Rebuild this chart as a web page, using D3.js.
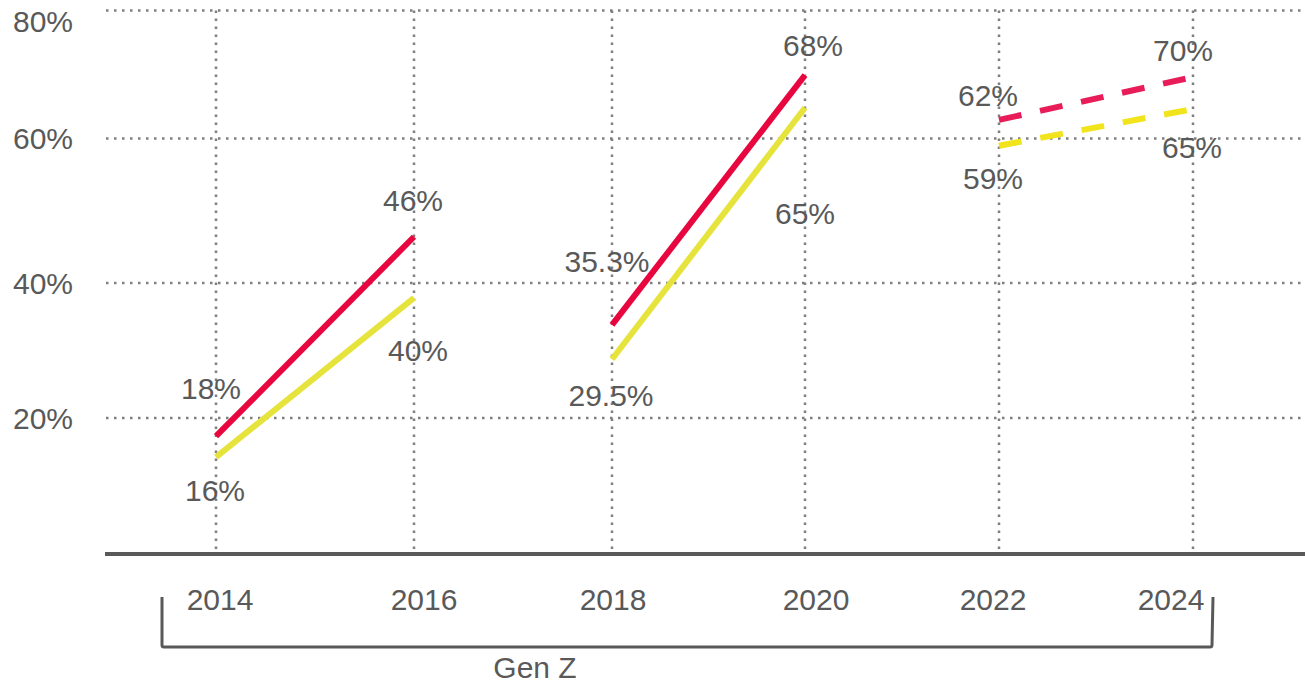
<!DOCTYPE html>
<html>
<head>
<meta charset="utf-8">
<script src="https://cdn.jsdelivr.net/npm/d3@7"></script>
<style>
  body { margin: 0; background: #fff; }
  svg { display: block; }
  text { font-family: "Liberation Sans", Arial, sans-serif; fill: #595959; }
</style>
</head>
<body>
<svg id="chart" width="1305" height="686"></svg>
<script>
// values as drawn in the picture (the printed labels are kept as text)
var years = [2014, 2016, 2018, 2020, 2022, 2024];
var redValues = [17.3, 46.4, 33.8, 69.9, 62.9, 69.6];
var yellowValues = [14.2, 37.8, 28.7, 64.8, 59.0, 64.6];
var redLabels = ["18%", "46%", "35.3%", "68%", "62%", "70%"];
var yellowLabels = ["16%", "40%", "29.5%", "65%", "59%", "65%"];
var yTicks = [20, 40, 60, 80];
var yTickLabels = ["20%", "40%", "60%", "80%"];
var periods = [[0, 1], [2, 3], [4, 5]];
var projected = [false, false, true];
var groupLabel = "Gen Z";

// layout nudges for the hand placed labels
var redNudge = [[-5, -48], [-1, -37], [-5, -64], [8, -30], [-11, -25], [-10, -27]];
var yellowNudge = [[-1, 33], [4, 52], [-1, 36], [0, 105], [-6, 32], [-1, 38]];
var yearNudge = [4, 10, 1, 11, -6, -22];

var svg = d3.select("#chart");

var x = d3.scaleLinear().domain(years).range([216, 414, 612, 805, 999, 1193]);
var y = d3.scaleLinear().domain([0, 20, 40, 60, 80]).range([553, 418, 283, 138.5, 10.5]);

// dotted grid
svg.append("g").selectAll("line")
    .data(yTicks).enter()
    .append("line")
    .attr("x1", 106).attr("x2", 1305)
    .attr("y1", function(d) { return y(d); })
    .attr("y2", function(d) { return y(d); })
    .attr("stroke", "#7f7f7f")
    .attr("stroke-width", 2.5)
    .attr("stroke-dasharray", "2.5,5.5");

svg.append("g").selectAll("line")
    .data(years).enter()
    .append("line")
    .attr("x1", function(d) { return x(d); })
    .attr("x2", function(d) { return x(d); })
    .attr("y1", y(80)).attr("y2", y(0))
    .attr("stroke", "#7f7f7f")
    .attr("stroke-width", 2.5)
    .attr("stroke-dasharray", "2.5,5.5");

// baseline
svg.append("line")
    .attr("x1", 105).attr("x2", 1305)
    .attr("y1", y(0) + 1).attr("y2", y(0) + 1)
    .attr("stroke", "#595959")
    .attr("stroke-width", 4);

// y tick labels
svg.append("g").selectAll("text")
    .data(yTicks).enter()
    .append("text")
    .attr("x", 13)
    .attr("y", function(d) { return Math.max(y(d), 21); })
    .attr("dy", "0.36em")
    .style("font-size", "30px")
    .text(function(d, i) { return yTickLabels[i]; });

// x year labels
svg.append("g").selectAll("text")
    .data(years).enter()
    .append("text")
    .attr("x", function(d, i) { return x(d) + yearNudge[i]; })
    .attr("y", 599)
    .attr("dy", "0.36em")
    .attr("text-anchor", "middle")
    .style("font-size", "30px")
    .text(function(d) { return d; });

var line = d3.line()
    .x(function(d) { return x(d[0]); })
    .y(function(d) { return y(d[1]); });

function drawSeries(values, solidColor, dashColor) {
    periods.forEach(function(p, k) {
        var pts = p.map(function(i) { return [years[i], values[i]]; });
        svg.append("path")
            .attr("d", line(pts))
            .attr("fill", "none")
            .attr("stroke", projected[k] ? dashColor : solidColor)
            .attr("stroke-width", 6)
            .attr("stroke-dasharray", projected[k] ? "23,19" : null);
    });
}

drawSeries(yellowValues, "#e6e43c", "#f1e41c");
drawSeries(redValues, "#e8063f", "#e81c58");

function drawLabels(values, labels, nudge) {
    svg.append("g").selectAll("text")
        .data(values).enter()
        .append("text")
        .attr("x", function(d, i) { return x(years[i]) + nudge[i][0]; })
        .attr("y", function(d, i) { return y(d) + nudge[i][1]; })
        .attr("dy", "0.36em")
        .attr("text-anchor", "middle")
        .style("font-size", "30px")
        .text(function(d, i) { return labels[i]; });
}

drawLabels(redValues, redLabels, redNudge);
drawLabels(yellowValues, yellowLabels, yellowNudge);

// bracket under the years
svg.append("path")
    .attr("d", "M162,597 L162,645 Q162,647 164,647 L1210,647 Q1212,647 1212,645 L1213,597")
    .attr("fill", "none")
    .attr("stroke", "#595959")
    .attr("stroke-width", 3);

svg.append("text")
    .attr("x", 535)
    .attr("y", 678)
    .attr("text-anchor", "middle")
    .style("font-size", "30px")
    .text(groupLabel);
</script>
</body>
</html>
